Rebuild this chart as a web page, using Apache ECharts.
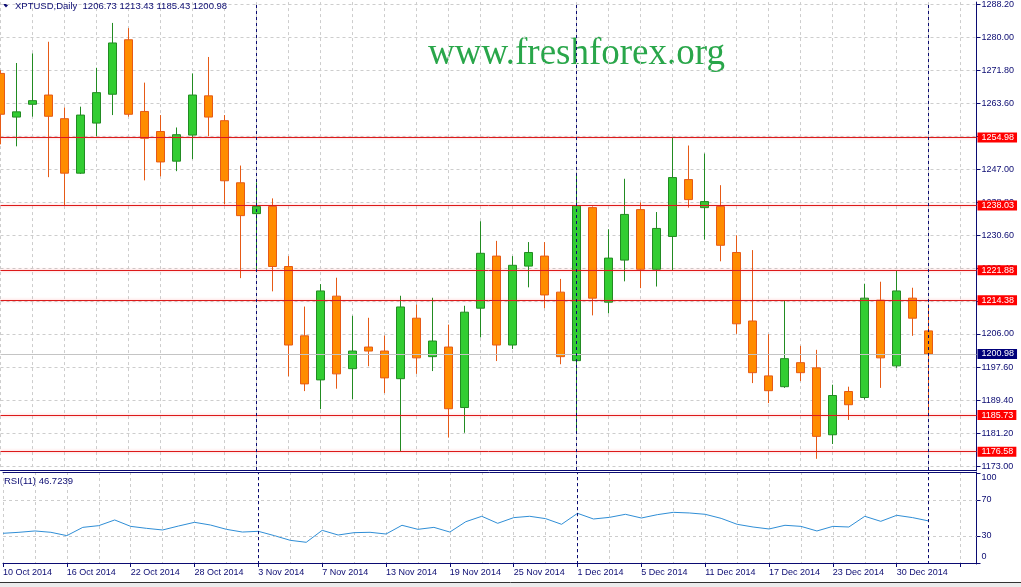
<!DOCTYPE html>
<html>
<head>
<meta charset="utf-8">
<title>XPTUSD Daily</title>
<script src="https://cdn.jsdelivr.net/npm/echarts@6/dist/echarts.min.js"></script>
<style>
  html, body { margin: 0; padding: 0; background: #fff; }
  #chart { width: 1021px; height: 587px; }
</style>
</head>
<body>
<div id="chart"></div>
<script>
// daily bars, oldest first
const dates = [
  '10 Oct 2014', '13 Oct 2014', '14 Oct 2014', '15 Oct 2014', '16 Oct 2014', '17 Oct 2014',
  '20 Oct 2014', '21 Oct 2014', '22 Oct 2014', '23 Oct 2014', '24 Oct 2014', '27 Oct 2014',
  '28 Oct 2014', '29 Oct 2014', '30 Oct 2014', '31 Oct 2014', '3 Nov 2014', '4 Nov 2014',
  '5 Nov 2014', '6 Nov 2014', '7 Nov 2014', '10 Nov 2014', '11 Nov 2014', '12 Nov 2014',
  '13 Nov 2014', '14 Nov 2014', '17 Nov 2014', '18 Nov 2014', '19 Nov 2014', '20 Nov 2014',
  '21 Nov 2014', '24 Nov 2014', '25 Nov 2014', '26 Nov 2014', '27 Nov 2014', '28 Nov 2014',
  '1 Dec 2014', '2 Dec 2014', '3 Dec 2014', '4 Dec 2014', '5 Dec 2014', '8 Dec 2014',
  '9 Dec 2014', '10 Dec 2014', '11 Dec 2014', '12 Dec 2014', '15 Dec 2014', '16 Dec 2014',
  '17 Dec 2014', '18 Dec 2014', '19 Dec 2014', '22 Dec 2014', '23 Dec 2014', '24 Dec 2014',
  '26 Dec 2014', '29 Dec 2014', '30 Dec 2014', '31 Dec 2014', '2 Jan 2015'
];
const open = [
  1271.0, 1260.1, 1263.3, 1265.6, 1259.7, 1246.1, 1258.6, 1265.8, 1279.4, 1261.5,
  1256.5, 1249.1, 1255.6, 1265.4, 1259.2, 1243.7, 1236.0, 1237.8, 1222.8, 1205.5,
  1194.5, 1215.4, 1197.3, 1202.7, 1201.7, 1194.8, 1209.9, 1200.3, 1202.7, 1187.6,
  1212.4, 1225.4, 1203.2, 1222.9, 1225.4, 1216.4, 1199.3, 1237.5, 1213.9, 1224.4,
  1237.0, 1222.1, 1230.3, 1244.5, 1237.5, 1237.8, 1226.3, 1209.2, 1195.5, 1192.8,
  1198.8, 1197.5, 1180.8, 1191.6, 1190.1, 1214.4, 1198.0, 1214.9, 1206.73
];
const high = [
  1271.8, 1273.6, 1276.0, 1278.9, 1262.5, 1262.7, 1272.4, 1283.6, 1282.3, 1268.7,
  1260.6, 1257.5, 1271.0, 1275.1, 1260.6, 1248.0, 1243.8, 1239.8, 1225.4, 1212.8,
  1218.4, 1220.0, 1210.5, 1210.0, 1205.6, 1215.5, 1213.3, 1215.0, 1208.3, 1213.0,
  1234.1, 1229.2, 1225.4, 1228.9, 1228.9, 1219.7, 1246.2, 1237.8, 1232.1, 1244.7,
  1238.8, 1236.4, 1254.9, 1253.0, 1251.0, 1243.1, 1230.6, 1226.9, 1205.9, 1214.3,
  1203.0, 1202.0, 1193.3, 1192.8, 1218.5, 1219.0, 1221.8, 1217.5, 1213.43
];
const low = [
  1253.3, 1252.8, 1260.2, 1245.1, 1237.9, 1245.9, 1255.3, 1260.6, 1260.2, 1244.3,
  1245.3, 1246.6, 1249.6, 1255.3, 1238.3, 1219.9, 1221.9, 1216.6, 1195.4, 1191.7,
  1187.2, 1192.3, 1189.7, 1197.9, 1191.2, 1176.6, 1196.0, 1196.7, 1180.1, 1181.3,
  1205.1, 1199.2, 1202.2, 1217.6, 1212.4, 1198.4, 1181.5, 1210.6, 1211.1, 1219.1,
  1217.4, 1217.8, 1221.9, 1237.5, 1229.5, 1224.1, 1206.0, 1193.7, 1188.7, 1192.5,
  1194.2, 1174.8, 1178.5, 1184.5, 1189.6, 1192.5, 1197.5, 1205.5, 1185.43
];
const close = [
  1260.8, 1261.4, 1264.2, 1260.3, 1246.1, 1260.6, 1266.2, 1278.6, 1260.8, 1254.8,
  1248.9, 1255.7, 1265.6, 1260.1, 1244.2, 1235.5, 1237.8, 1222.8, 1203.2, 1193.5,
  1216.7, 1196.0, 1201.7, 1201.7, 1195.0, 1212.7, 1200.0, 1204.2, 1187.3, 1211.4,
  1226.1, 1203.2, 1223.1, 1226.3, 1215.7, 1200.3, 1238.0, 1214.9, 1224.9, 1235.8,
  1222.1, 1232.3, 1245.0, 1239.5, 1239.0, 1228.1, 1208.5, 1196.3, 1191.8, 1199.8,
  1196.3, 1180.4, 1190.6, 1188.3, 1214.9, 1200.0, 1216.7, 1209.9, 1200.98
];
const rsi = [
  33.0, 34.1, 35.6, 34.1, 30.4, 39.6, 41.5, 47.8, 40.7, 38.5,
  36.7, 41.1, 45.2, 42.2, 37.4, 34.4, 35.2, 30.4, 25.2, 23.0,
  36.3, 31.1, 33.7, 34.1, 32.2, 41.9, 37.4, 39.6, 34.4, 45.9,
  51.9, 44.1, 50.4, 51.9, 49.3, 43.0, 55.2, 48.9, 50.7, 54.1,
  50.0, 53.7, 56.3, 55.6, 54.1, 49.6, 43.0, 40.0, 37.8, 41.9,
  40.7, 35.6, 40.7, 40.0, 51.9, 46.3, 53.0, 50.4, 46.7239
];
// horizontal levels drawn on the chart
const levels = [1254.98, 1238.03, 1221.88, 1214.38, 1185.73, 1176.58];
// price scale labels on the right
const priceTicks = [1173.00, 1181.20, 1189.40, 1197.60, 1206.00, 1214.20, 1222.40, 1230.60,
  1238.80, 1247.00, 1255.20, 1263.60, 1271.80, 1280.00, 1288.20];
const rsiTicks = [0, 30, 70, 100];
const rsiLevels = [70, 30];

const FONT = 'Liberation Sans';
const NAVY = '#0b0b72';
const GRID = '#cdcdcd';
const n = dates.length;
const last = n - 1;

// three empty slots keep the space right of the last bar
const cats = dates.concat([' ', '  ', '   ']);
const candles = dates.map((d, i) => [open[i], close[i], low[i], high[i]]);
const month = d => d.split(' ')[1];
const separators = dates
  .filter((d, i) => i > 0 && month(d) !== month(dates[i - 1]))
  .map(d => ({ xAxis: d, lineStyle: { color: NAVY, type: [3, 3], width: 1 } }));

const boxLabel = (bg) => ({
  show: true, position: 'end', distance: 1,
  formatter: p => p.value.toFixed(2),
  color: '#fff', backgroundColor: bg,
  fontFamily: FONT, fontSize: 9, lineHeight: 9, padding: [1, 3, 0, 4]
});

const chart = echarts.init(document.getElementById('chart'));
const option = {
  animation: false,
  backgroundColor: '#fff',
  title: [
    {
      text: 'XPTUSD,Daily  ' + [open[last], high[last], low[last], close[last]].map(v => v.toFixed(2)).join(' '),
      left: 15, top: 1, padding: 0,
      textStyle: { fontFamily: FONT, fontSize: 9.5, fontWeight: 'normal', color: NAVY }
    },
    {
      text: 'RSI(11) ' + rsi[last],
      left: 4, top: 476, padding: 0,
      textStyle: { fontFamily: FONT, fontSize: 9.5, fontWeight: 'normal', color: NAVY }
    }
  ],
  graphic: [
    { type: 'polygon', shape: { points: [[3, 4], [9, 4], [6, 7.5]] }, style: { fill: NAVY } },
    {
      type: 'text', left: 428, top: 36, z: 0,
      style: { text: 'www.freshforex.org', font: '37px "Liberation Serif"', fill: '#29a64a' }
    },
    { type: 'rect', shape: { x: 0, y: 583, width: 1021, height: 4 }, style: { fill: '#ececec' } },
    { type: 'line', shape: { x1: 0, y1: 582.5, x2: 1021, y2: 582.5 }, style: { stroke: '#333', lineWidth: 1 } }
  ],
  grid: [
    { left: 0.5, width: 976, top: 0, height: 470 },
    { left: 0.5, width: 976, top: 472, height: 92 }
  ],
  xAxis: [
    {
      gridIndex: 0, type: 'category', data: cats, boundaryGap: false,
      axisLine: { lineStyle: { color: NAVY } },
      axisTick: { show: false }, axisLabel: { show: false },
      splitLine: { show: true, interval: 1, lineStyle: { color: GRID, type: [3, 3] } }
    },
    {
      gridIndex: 1, type: 'category', data: cats, boundaryGap: false,
      axisLine: { lineStyle: { color: NAVY } },
      axisTick: { interval: 3, length: 4, lineStyle: { color: NAVY } },
      axisLabel: { interval: 3, align: 'left', margin: 4, color: NAVY, fontFamily: FONT, fontSize: 9 },
      splitLine: { show: true, interval: 1, lineStyle: { color: GRID, type: [3, 3] } }
    },
    {
      gridIndex: 1, type: 'category', data: cats, boundaryGap: false, position: 'top',
      axisLine: { lineStyle: { color: NAVY } },
      axisTick: { show: false }, axisLabel: { show: false }, splitLine: { show: false }
    }
  ],
  yAxis: [
    {
      gridIndex: 0, type: 'value', position: 'right',
      min: 1173 - 4 / 4.024, max: 1173 + 466 / 4.024,
      axisLine: { show: true, lineStyle: { color: NAVY } },
      axisTick: { show: true, customValues: priceTicks, length: 4, lineStyle: { color: NAVY } },
      axisLabel: {
        customValues: priceTicks, formatter: v => v.toFixed(2), margin: 5,
        color: NAVY, fontFamily: FONT, fontSize: 9
      },
      splitLine: { show: true, lineStyle: { color: GRID, type: [3, 3] } }
    },
    {
      gridIndex: 1, type: 'value', position: 'right',
      min: -1 / 0.9, max: 100 + 1 / 0.9,
      axisLine: { show: true, lineStyle: { color: NAVY } },
      axisTick: { show: true, customValues: rsiTicks, length: 4, lineStyle: { color: NAVY } },
      axisLabel: {
        customValues: rsiTicks, margin: 5, color: NAVY, fontFamily: FONT, fontSize: 9,
        formatter: v => v === 100 ? '{top|100}' : v === 0 ? '{bot|0}' : String(v),
        rich: {
          top: { padding: [10, 0, 0, 0], fontFamily: FONT, fontSize: 9, color: NAVY },
          bot: { padding: [0, 0, 12, 0], fontFamily: FONT, fontSize: 9, color: NAVY }
        }
      },
      splitLine: { show: false }
    }
  ],
  series: [
    {
      name: 'XPTUSD', type: 'candlestick', xAxisIndex: 0, yAxisIndex: 0,
      data: candles, barWidth: 9,
      itemStyle: {
        color: '#32cd32', color0: '#ff8c00',
        borderColor: '#228b22', borderColor0: '#e65a16', borderWidth: 1
      },
      markLine: {
        silent: true, symbol: ['none', 'none'], animation: false,
        data: levels.map(v => ({
          yAxis: v,
          lineStyle: {
            color: '#dc1a1a', type: 'solid', width: 1,
            shadowColor: 'rgba(255, 70, 70, 0.45)', shadowBlur: 3
          },
          label: boxLabel('#ff0000')
        })).concat([{
          yAxis: close[last], lineStyle: { color: '#c4c4c4', type: 'solid', width: 1 }, label: boxLabel('#00007a')
        }]).concat(separators.map(s => Object.assign({ label: { show: false } }, s)))
      }
    },
    {
      name: 'RSI(11)', type: 'line', xAxisIndex: 1, yAxisIndex: 1,
      data: rsi, symbol: 'none', lineStyle: { color: '#2f8ed6', width: 1 },
      markLine: {
        silent: true, symbol: ['none', 'none'], animation: false, label: { show: false },
        data: rsiLevels.map(v => ({ yAxis: v, lineStyle: { color: GRID, type: [3, 3], width: 1 } }))
          .concat(separators)
      }
    }
  ]
};
chart.setOption(option);
</script>
</body>
</html>
